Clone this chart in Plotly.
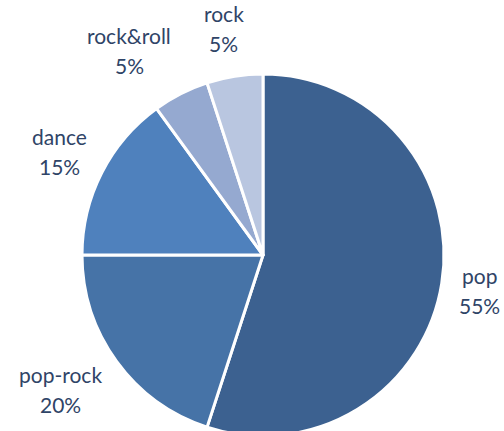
import math
import plotly.graph_objects as go

genres = ["pop", "pop-rock", "dance", "rock&roll", "rock"]
shares = [55, 20, 15, 5, 5]
colors = ["#3C6190", "#4673A7", "#4F81BD", "#95A9D0", "#B9C6E0"]

W, H = 504, 441
cx, cy, r = 263, 255, 181
FONT = "Lato, Open Sans, sans-serif"
FSIZE = 21
TXT = "#2F4467"

fig = go.Figure(go.Pie(
    labels=genres,
    values=shares,
    sort=False,
    direction="clockwise",
    rotation=0,
    marker=dict(colors=colors, line=dict(color="white", width=3)),
    textinfo="none",
    showlegend=False,
    hoverinfo="label+percent",
    domain=dict(x=[(cx - r) / W, (cx + r) / W], y=[(H - cy - r) / H, (H - cy + r) / H]),
))


def text_width(s):
    w = 0.0
    for ch in s:
        if ch == "%":
            w += 18
        elif ch == "&":
            w += 14
        elif ch in "il":
            w += 5
        else:
            w += 10.5
    return w


# Data labels outside the pie, two lines each (name, then percentage)
total = sum(shares)
cum = 0.0
label_gap = 18
half_h = 30
for name, v in zip(genres, shares):
    frac = v / total
    mid = (cum + frac / 2) * 2 * math.pi
    cum += frac
    ux, uy = math.sin(mid), -math.cos(mid)  # screen direction, y downward
    pct = f"{round(frac * 100)}%"
    half_w = max(text_width(name), text_width(pct)) / 2
    px = (r + label_gap) * ux
    py = (r + label_gap) * uy
    sx = math.copysign(half_w * min(1.0, abs(ux) * 2.5), ux)
    sy = uy * half_h
    lx = cx + px + sx
    ly = cy + py + sy
    for txt, dy in ((name, -15), (pct, 15)):
        fig.add_annotation(
            x=lx / W, y=(H - (ly + dy)) / H, xref="paper", yref="paper",
            text=txt, showarrow=False, xanchor="center", yanchor="middle",
            font=dict(family=FONT, size=FSIZE, color=TXT),
        )

fig.update_layout(
    width=W, height=H,
    margin=dict(l=0, r=0, t=0, b=0),
    paper_bgcolor="white",
    plot_bgcolor="white",
    font=dict(family=FONT, color=TXT),
)

fig.write_html("out.html", config={"displayModeBar": False},
               post_script="document.body.style.margin='0';document.body.style.overflow='hidden';")
